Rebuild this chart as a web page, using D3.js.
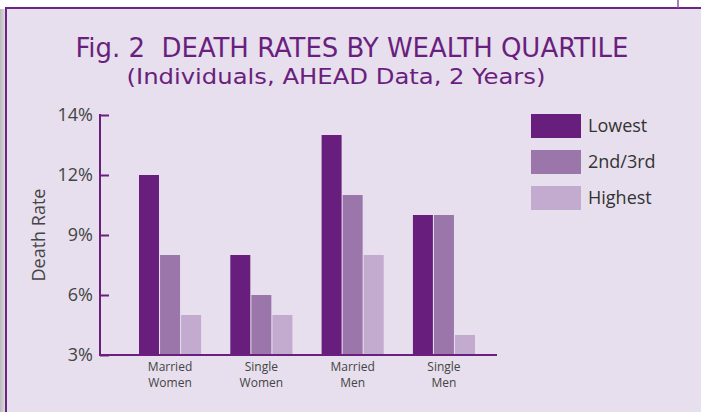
<!DOCTYPE html>
<meta charset="utf-8">
<style>
    body { margin: 0; overflow: hidden; background: #fff; }
    text { font-family: "Open Sans", sans-serif; }
    .title { font-family: "DejaVu Sans Condensed", "Open Sans", sans-serif; white-space: pre; }
</style>
<svg id="canvas" width="701" height="412"></svg>
<script src="https://d3js.org/d3.v7.min.js"></script>
<script>

    var groups = [["Married", "Women"], ["Single", "Women"], ["Married", "Men"], ["Single", "Men"]];
    var series = ["Lowest", "2nd/3rd", "Highest"];
    var lowest = [12, 8, 14, 10];
    var middle = [8, 6, 11, 10];
    var highest = [5, 5, 8, 4];
    var tickValues = [3, 6, 9, 12, 15];
    var tickLabels = ["3%", "6%", "9%", "12%", "14%"];

    var colors = ["#681e7c", "#9b76ab", "#c2abcf"];
    var values = [lowest, middle, highest];

    var svg = d3.select("svg");

    // frame
    var defs = svg.append("defs");
    var grad = defs.append("linearGradient").attr("id", "shadow");
    grad.append("stop").attr("offset", "0").attr("stop-color", "#b9b9b9");
    grad.append("stop").attr("offset", "1").attr("stop-color", "#dcdcdc");
    svg.append("rect").attr("x", 0).attr("y", 9).attr("width", 5).attr("height", 403).attr("fill", "url(#shadow)");
    svg.append("rect").attr("x", 6).attr("y", 8).attr("width", 695).attr("height", 404).attr("fill", "#e7dfed");
    svg.append("line").attr("x1", 5).attr("x2", 701).attr("y1", 8).attr("y2", 8)
        .attr("stroke", "#6e2484").attr("stroke-width", 2);
    svg.append("line").attr("x1", 6).attr("x2", 6).attr("y1", 7).attr("y2", 412)
        .attr("stroke", "#6e2484").attr("stroke-width", 2);
    svg.append("line").attr("x1", 678).attr("x2", 678).attr("y1", 0).attr("y2", 8)
        .attr("stroke", "#8a55a0").attr("stroke-width", 1.5);

    // titles
    svg.append("text").attr("class", "title").attr("x", 352).attr("y", 57).attr("text-anchor", "middle")
        .attr("font-size", 27).attr("fill", "#6a1f7e")
        .attr("textLength", 553).attr("lengthAdjust", "spacingAndGlyphs")
        .text("Fig. 2  DEATH RATES BY WEALTH QUARTILE");
    svg.append("text").attr("class", "title").attr("x", 336).attr("y", 84).attr("text-anchor", "middle")
        .attr("font-size", 22).attr("fill", "#6a1f7e")
        .attr("textLength", 419).attr("lengthAdjust", "spacingAndGlyphs")
        .text("(Individuals, AHEAD Data, 2 Years)");

    var y = d3.scaleLinear().domain([3, 15]).range([355, 115]);
    var x0 = d3.scaleBand().domain(d3.range(groups.length)).range([139, 475]).paddingInner(0.32);
    var x1 = d3.scaleBand().domain(d3.range(series.length)).range([0, x0.bandwidth()]).paddingInner(0.05);

    // bars
    var g = svg.append("g");
    values.forEach(function(vals, s) {
        g.selectAll(null)
            .data(vals)
            .enter().append("rect")
            .attr("x", function(d, i) { return x0(i) + x1(s); })
            .attr("y", function(d) { return y(d); })
            .attr("width", x1.bandwidth())
            .attr("height", function(d) { return y(3) - y(d); })
            .attr("fill", colors[s]);
    });

    // y axis
    var yAxis = d3.axisLeft(y).tickValues(tickValues)
        .tickFormat(function(d, i) { return tickLabels[i]; })
        .tickSize(-9).tickPadding(8);
    var ax = svg.append("g").attr("transform", "translate(100,0)").call(yAxis);
    ax.attr("font-family", null);
    ax.select(".domain").remove();
    ax.selectAll(".tick line").attr("stroke", "#6a1f7e").attr("stroke-width", 2);
    ax.selectAll(".tick text").attr("font-size", 18).attr("fill", "#444")
        .attr("x", -7);
    svg.append("line").attr("x1", 100).attr("x2", 100).attr("y1", 114).attr("y2", 356)
        .attr("stroke", "#6a1f7e").attr("stroke-width", 2);
    svg.append("line").attr("x1", 99).attr("x2", 497).attr("y1", 355).attr("y2", 355)
        .attr("stroke", "#6a1f7e").attr("stroke-width", 2);

    svg.append("text").attr("transform", "translate(45,235) rotate(-90)")
        .attr("text-anchor", "middle").attr("font-size", 18).attr("fill", "#444")
        .text("Death Rate");

    // category labels
    var cat = svg.selectAll(".cat").data(groups).enter().append("text")
        .attr("class", "cat").attr("text-anchor", "middle")
        .attr("font-size", 12).attr("fill", "#444");
    cat.append("tspan").attr("x", function(d, i) { return x0(i) + x0.bandwidth() / 2; })
        .attr("y", 371).text(function(d) { return d[0]; });
    cat.append("tspan").attr("x", function(d, i) { return x0(i) + x0.bandwidth() / 2; })
        .attr("y", 387).text(function(d) { return d[1]; });

    // legend
    var leg = svg.selectAll(".leg").data(series).enter().append("g")
        .attr("class", "leg")
        .attr("transform", function(d, i) { return "translate(531," + (114 + i * 36) + ")"; });
    leg.append("rect").attr("width", 50).attr("height", 24).attr("fill", function(d, i) { return colors[i]; });
    leg.append("text").attr("x", 57).attr("y", 18).attr("font-size", 18).attr("fill", "#333")
        .text(function(d) { return d; });

</script>
